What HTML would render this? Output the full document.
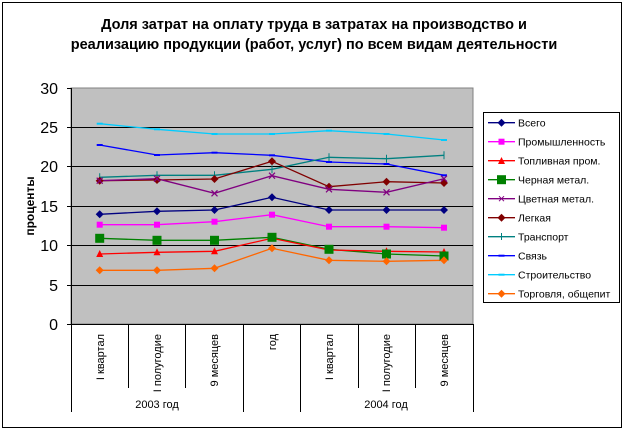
<!DOCTYPE html>
<html><head><meta charset="utf-8"><style>
body{margin:0;background:#fff;}
svg{display:block;font-family:"Liberation Sans",Arial,sans-serif;}
</style></head><body>
<svg width="630" height="431" viewBox="0 0 630 431" xmlns="http://www.w3.org/2000/svg">
<rect x="0" y="0" width="630" height="431" fill="#fff"/>
<rect x="2.5" y="2.5" width="619" height="425" fill="none" stroke="#000" stroke-width="1"/>
<text x="314" y="29" font-size="14.5" font-weight="bold" text-anchor="middle">Доля затрат на оплату труда в затратах на производство и</text>
<text x="314" y="49" font-size="14.5" font-weight="bold" text-anchor="middle">реализацию продукции (работ, услуг) по всем видам деятельности</text>
<rect x="71" y="88" width="402" height="236" fill="#c0c0c0" stroke="#808080"/>
<g stroke="#000" stroke-width="1">
<line x1="71" y1="127.5" x2="473" y2="127.5"/><line x1="71" y1="166.5" x2="473" y2="166.5"/>
<line x1="71" y1="206.5" x2="473" y2="206.5"/><line x1="71" y1="245.5" x2="473" y2="245.5"/>
<line x1="71" y1="285.5" x2="473" y2="285.5"/>
<line x1="71.5" y1="88" x2="71.5" y2="412"/>
<line x1="71" y1="324.5" x2="473" y2="324.5"/>
<g><line x1="67" y1="88.5" x2="71" y2="88.5"/><line x1="67" y1="127.5" x2="71" y2="127.5"/><line x1="67" y1="166.5" x2="71" y2="166.5"/><line x1="67" y1="206.5" x2="71" y2="206.5"/><line x1="67" y1="245.5" x2="71" y2="245.5"/><line x1="67" y1="285.5" x2="71" y2="285.5"/><line x1="67" y1="324.5" x2="71" y2="324.5"/></g>
<line x1="128.5" y1="324" x2="128.5" y2="388"/><line x1="185.5" y1="324" x2="185.5" y2="388"/>
<line x1="243.5" y1="324" x2="243.5" y2="412"/><line x1="300.5" y1="324" x2="300.5" y2="412"/>
<line x1="358.5" y1="324" x2="358.5" y2="388"/><line x1="415.5" y1="324" x2="415.5" y2="388"/>
<line x1="473.5" y1="324" x2="473.5" y2="412"/>
</g>
<g font-size="16" text-anchor="end">
<text x="58" y="94">30</text><text x="58" y="133">25</text><text x="58" y="172">20</text><text x="58" y="212">15</text><text x="58" y="251">10</text><text x="58" y="291">5</text><text x="58" y="330">0</text>
</g>
<text transform="translate(34,206) rotate(-90)" font-size="12" font-weight="bold" text-anchor="middle">проценты</text>
<g font-size="11" text-anchor="end">
<text transform="translate(104,334) rotate(-90)">I квартал</text>
<text transform="translate(161,334) rotate(-90)">I полугодие</text>
<text transform="translate(218,334) rotate(-90)">9 месяцев</text>
<text transform="translate(276,334) rotate(-90)">год</text>
<text transform="translate(333,334) rotate(-90)">I квартал</text>
<text transform="translate(390,334) rotate(-90)">I полугодие</text>
<text transform="translate(448,334) rotate(-90)">9 месяцев</text>
</g>
<text x="157" y="408" font-size="11" text-anchor="middle">2003 год</text>
<text x="386" y="408" font-size="11" text-anchor="middle">2004 год</text>
<g fill="none" stroke-width="1.3">
<polyline stroke="#00ccff" points="99.7,123.7 157,129.3 214.5,134 272,134 329,130.7 386.5,134 444,140"/>
<polyline stroke="#0000ff" points="99.7,145 157,155 214.5,152.7 272,155.3 329,162 386.5,164 444,175.3"/>
<polyline stroke="#008080" points="99.7,177.3 157,175.3 214.5,175.3 272,169.3 329,157.3 386.5,158.7 444,155.3"/>
<polyline stroke="#800000" points="99.7,180.7 157,180 214.5,179 272,161.3 329,186.7 386.5,181.7 444,183"/>
<polyline stroke="#800080" points="99.7,180.7 157,178.7 214.5,193.3 272,175.7 329,189.3 386.5,192.3 444,178.7"/>
<polyline stroke="#000080" points="99.7,214.3 157,211.3 214.5,210 272,197.3 329,210 386.5,210 444,210"/>
<polyline stroke="#ff00ff" points="99.7,224.7 157,224.7 214.5,221.7 272,214.7 329,226.7 386.5,226.7 444,227.7"/>
<polyline stroke="#008000" points="99.7,238.3 157,240.3 214.5,240.3 272,237.3 329,249.3 386.5,254 444,256"/>
<polyline stroke="#ff0000" points="99.7,254 157,252.3 214.5,251.3 272,238.3 329,250 386.5,251.3 444,252"/>
<polyline stroke="#ff6600" points="99.7,270.3 157,270.3 214.5,268.3 272,248.3 329,260.3 386.5,261.3 444,260.3"/>
</g>
<defs>
<path id="dm" d="M0,-4 L4,0 L0,4 L-4,0Z"/>
</defs>
<g fill="#00ccff"><rect x="96.7" y="122.7" width="6" height="2"/><rect x="154" y="128.3" width="6" height="2"/><rect x="211.5" y="133" width="6" height="2"/><rect x="269" y="133" width="6" height="2"/><rect x="326" y="129.7" width="6" height="2"/><rect x="383.5" y="133" width="6" height="2"/><rect x="441" y="139" width="6" height="2"/></g>
<g fill="#0000ff"><rect x="96.7" y="144" width="6" height="2"/><rect x="154" y="154" width="6" height="2"/><rect x="211.5" y="151.7" width="6" height="2"/><rect x="269" y="154.3" width="6" height="2"/><rect x="326" y="161" width="6" height="2"/><rect x="383.5" y="163" width="6" height="2"/><rect x="441" y="174.3" width="6" height="2"/></g>
<g stroke="#008080" stroke-width="1"><path d="M99.7,173.3v8M157,171.3v8M214.5,171.3v8M272,165.3v8M329,153.3v8M386.5,154.7v8M444,151.3v8"/></g>
<g fill="#800000"><use href="#dm" x="99.7" y="180.7"/><use href="#dm" x="157" y="180"/><use href="#dm" x="214.5" y="179"/><use href="#dm" x="272" y="161.3"/><use href="#dm" x="329" y="186.7"/><use href="#dm" x="386.5" y="181.7"/><use href="#dm" x="444" y="183"/></g>
<g stroke="#800080" stroke-width="1.2"><path d="M96.7,177.7l6,6M102.7,177.7l-6,6M154,175.7l6,6M160,175.7l-6,6M211.5,190.3l6,6M217.5,190.3l-6,6M269,172.7l6,6M275,172.7l-6,6M326,186.3l6,6M332,186.3l-6,6M383.5,189.3l6,6M389.5,189.3l-6,6M441,175.7l6,6M447,175.7l-6,6"/></g>
<g fill="#000080"><use href="#dm" x="99.7" y="214.3"/><use href="#dm" x="157" y="211.3"/><use href="#dm" x="214.5" y="210"/><use href="#dm" x="272" y="197.3"/><use href="#dm" x="329" y="210"/><use href="#dm" x="386.5" y="210"/><use href="#dm" x="444" y="210"/></g>
<g fill="#ff00ff"><rect x="96.7" y="221.7" width="6" height="6"/><rect x="154" y="221.7" width="6" height="6"/><rect x="211.5" y="218.7" width="6" height="6"/><rect x="269" y="211.7" width="6" height="6"/><rect x="326" y="223.7" width="6" height="6"/><rect x="383.5" y="223.7" width="6" height="6"/><rect x="441" y="224.7" width="6" height="6"/></g>
<g fill="#ff0000"><path d="M99.7,250l3.5,7h-7zM157,248.3l3.5,7h-7zM214.5,247.3l3.5,7h-7zM272,234.3l3.5,7h-7zM329,246l3.5,7h-7zM386.5,247.3l3.5,7h-7zM444,248l3.5,7h-7z"/></g>
<g fill="#008000"><rect x="95.2" y="233.8" width="9" height="9"/><rect x="152.5" y="235.8" width="9" height="9"/><rect x="210" y="235.8" width="9" height="9"/><rect x="267.5" y="232.8" width="9" height="9"/><rect x="324.5" y="244.8" width="9" height="9"/><rect x="382" y="249.5" width="9" height="9"/><rect x="439.5" y="251.5" width="9" height="9"/></g>
<g fill="#ff6600"><use href="#dm" x="99.7" y="270.3"/><use href="#dm" x="157" y="270.3"/><use href="#dm" x="214.5" y="268.3"/><use href="#dm" x="272" y="248.3"/><use href="#dm" x="329" y="260.3"/><use href="#dm" x="386.5" y="261.3"/><use href="#dm" x="444" y="260.3"/></g>
<rect x="483.5" y="112.5" width="136" height="190" fill="#fff" stroke="#000"/>
<g font-size="10.5">
<line x1="488" y1="122.7" x2="515" y2="122.7" stroke="#000080" stroke-width="1.3"/><use href="#dm" x="501.5" y="122.7" fill="#000080"/><text x="518" y="126.5">Всего</text>
<line x1="488" y1="141.7" x2="515" y2="141.7" stroke="#ff00ff" stroke-width="1.3"/><rect x="498.5" y="138.7" width="6" height="6" fill="#ff00ff"/><text x="518" y="145.5">Промышленность</text>
<line x1="488" y1="160.7" x2="515" y2="160.7" stroke="#ff0000" stroke-width="1.3"/><path d="M501.5,157l3.5,7h-7z" fill="#ff0000"/><text x="518" y="164.5">Топливная пром.</text>
<line x1="488" y1="179.7" x2="515" y2="179.7" stroke="#008000" stroke-width="1.3"/><rect x="497" y="175.2" width="9" height="9" fill="#008000"/><text x="518" y="183.5">Черная метал.</text>
<line x1="488" y1="198.7" x2="515" y2="198.7" stroke="#800080" stroke-width="1.3"/><path d="M499,196.2l5,5M504,196.2l-5,5" stroke="#800080"/><text x="518" y="202.5">Цветная метал.</text>
<line x1="488" y1="217.7" x2="515" y2="217.7" stroke="#800000" stroke-width="1.3"/><use href="#dm" x="501.5" y="217.7" fill="#800000"/><text x="518" y="221.5">Легкая</text>
<line x1="488" y1="236.7" x2="515" y2="236.7" stroke="#008080" stroke-width="1.3"/><path d="M501.5,233v7" stroke="#008080"/><text x="518" y="240.5">Транспорт</text>
<line x1="488" y1="255.7" x2="515" y2="255.7" stroke="#0000ff" stroke-width="1.3"/><rect x="498.5" y="254.7" width="6" height="2" fill="#0000ff"/><text x="518" y="259.5">Связь</text>
<line x1="488" y1="274.7" x2="515" y2="274.7" stroke="#00ccff" stroke-width="1.3"/><rect x="498.5" y="273.7" width="6" height="2" fill="#00ccff"/><text x="518" y="278.5">Строительство</text>
<line x1="488" y1="293.7" x2="515" y2="293.7" stroke="#ff6600" stroke-width="1.3"/><use href="#dm" x="501.5" y="293.7" fill="#ff6600"/><text x="518" y="297.5">Торговля, общепит</text>
</g>
</svg>
</body></html>
